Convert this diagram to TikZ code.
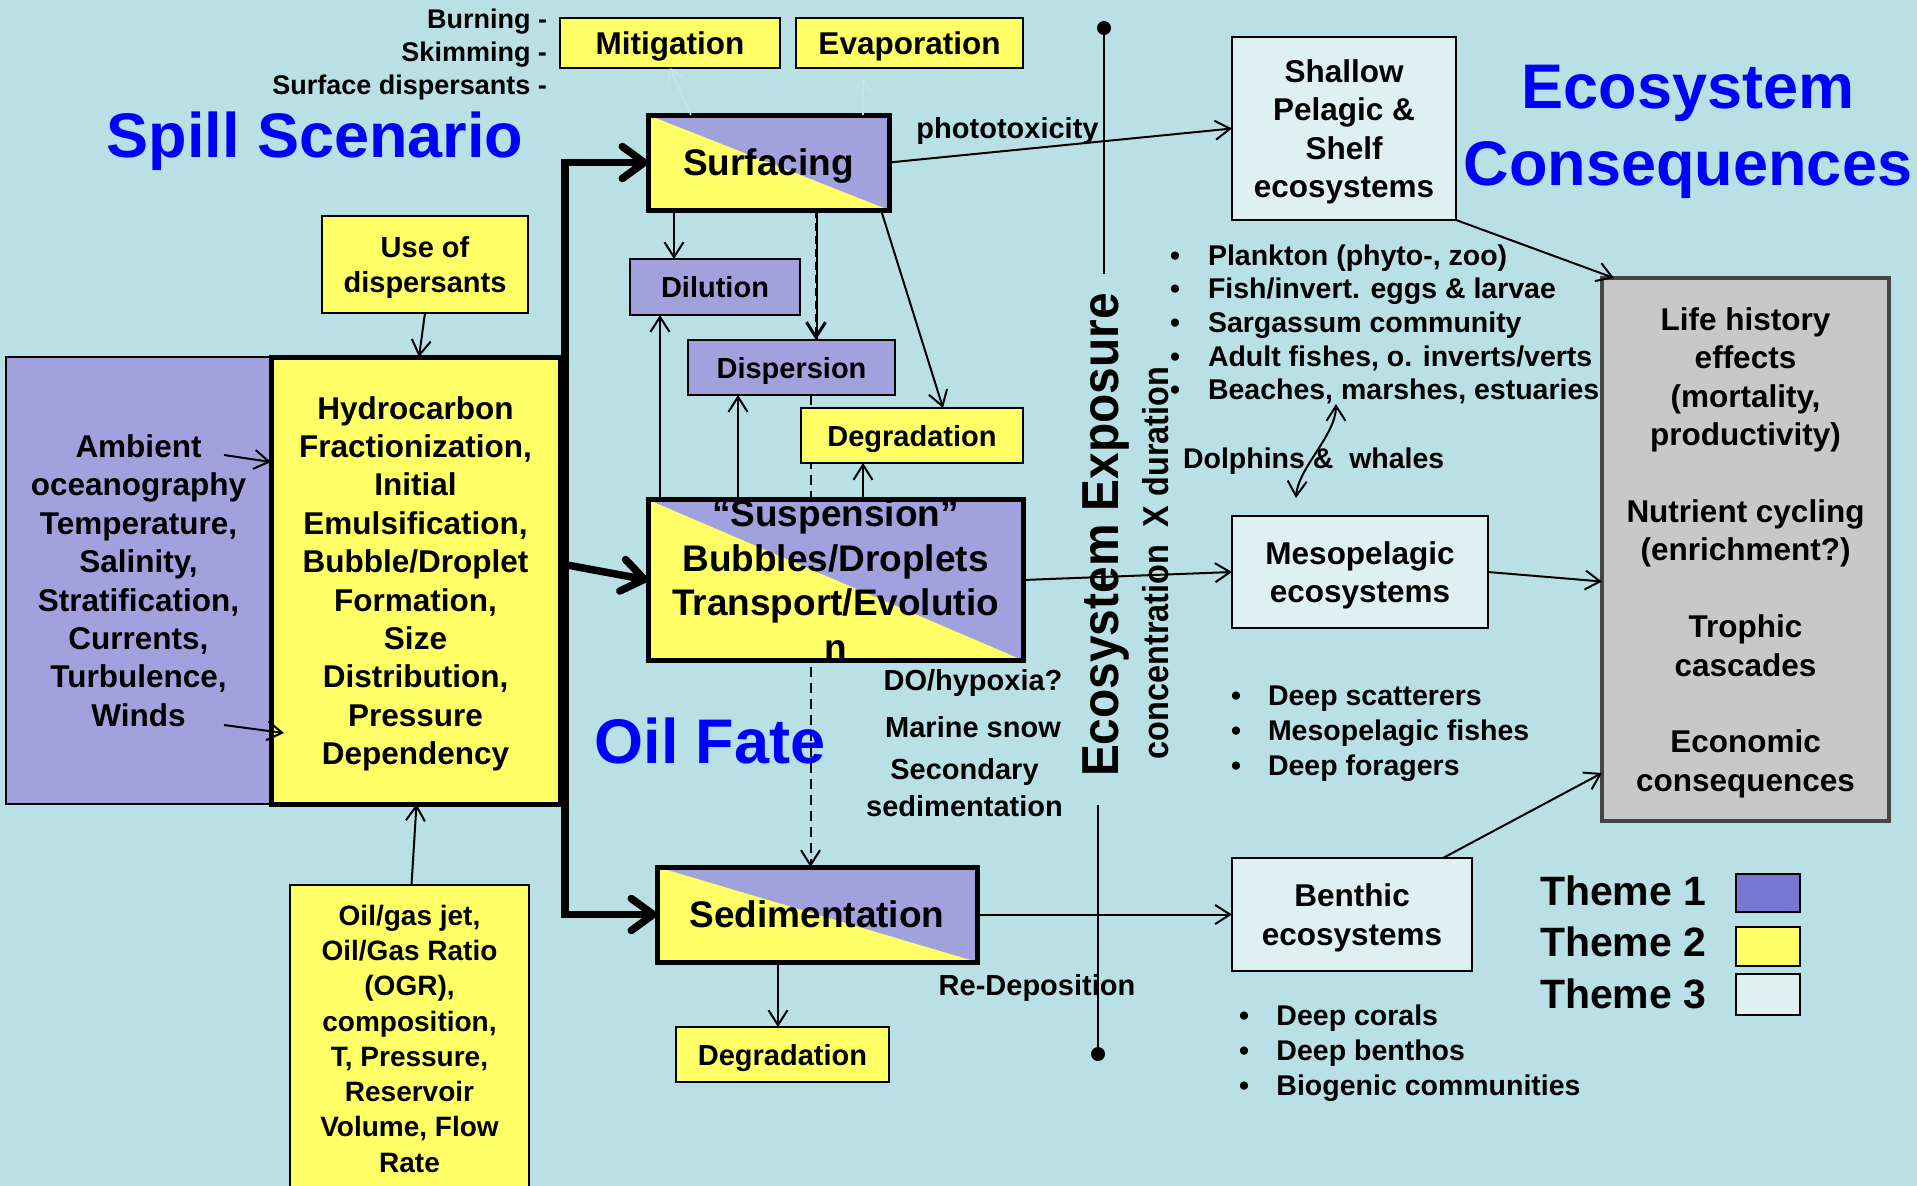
\documentclass[tikz,border=0pt]{standalone}
\usepackage{fontspec}
\usepackage{graphicx}
\setmainfont{Liberation Sans}
\usetikzlibrary{arrows.meta,calc}
\definecolor{bgc}{RGB}{185,224,228}
\definecolor{purp}{RGB}{161,161,221}
\definecolor{ylw}{RGB}{255,255,102}
\definecolor{lite}{RGB}{222,240,241}
\definecolor{grayb}{RGB}{200,200,200}
\definecolor{grayd}{RGB}{70,70,70}
\definecolor{themeone}{RGB}{120,120,210}
\definecolor{faint}{RGB}{197,229,232}
\pgfdeclarelayer{bg}
\pgfdeclarelayer{behind}
\pgfsetlayers{bg,behind,main}
\newcommand\fsz[2]{\fontsize{#1}{#2}\selectfont}
\newcommand\bul[1]{\makebox[#1][l]{\textbullet}}
\begin{document}
\begin{tikzpicture}[x=1pt,y=-1pt,
  every node/.style={font=\bfseries, text=black, inner sep=0pt, outer sep=0pt},
  bigtxt/.style={font=\bfseries\fsz{31.5}{38.4}},
  medtxt/.style={font=\bfseries\fsz{29}{34.5}},
  box/.style={draw, line width=1.6pt, align=center, text depth=0pt},
  ybox/.style={box, fill=ylw},
  pbox/.style={box, fill=purp},
  lbox/.style={box, fill=lite},
  diagbox/.style={draw, line width=5pt, fill=purp, align=center, text depth=0pt,
    path picture={\fill[ylw] (path picture bounding box.north west) -- (path picture bounding box.south west) -- (path picture bounding box.south east) -- cycle;}},
  arr/.style={line width=2pt, -{Straight Barb[length=15pt,width=19pt]}},
  thickarr/.style={line width=7.5pt, line join=miter},
  title/.style={font=\bfseries\fsz{63}{73}, text=blue, anchor=base},
  dot/.style={circle, fill=black, minimum size=14pt},
  lbl/.style={font=\bfseries\fsz{29}{34}, anchor=base},
  lst/.style={font=\bfseries\fsz{28.5}{33}, anchor=base west},
  theme/.style={font=\bfseries\fsz{41}{48}, anchor=base west},
  legbox/.style={draw, line width=2.2pt, minimum width=64pt}
]
\useasboundingbox (0,0) rectangle (1917,1186);
\begin{pgfonlayer}{bg}
\fill[bgc] (0,0) rectangle (1917,1186);
\end{pgfonlayer}

% titles
\node[title] (spill) at (315,157) {Spill Scenario};
\node[title] (eco1) at (1688,108) {Ecosystem};
\node[title] (eco2) at (1688,185) {Consequences};
\node[title] (oilfate) at (710,763) {Oil Fate};

% mitigation list
\node[font=\bfseries\fsz{27}{33}, anchor=base east] (burn) at (547,28) {Burning -};
\node[font=\bfseries\fsz{27}{33}, anchor=base east] (skim) at (547,61) {Skimming -};
\node[font=\bfseries\fsz{27}{33}, anchor=base east] (surfd) at (547,94) {Surface dispersants -};

% boxes
\node[ybox, font=\bfseries\fsz{31.5}{38}, minimum width=220pt, minimum height=50pt] (mitig) at (670,43) {Mitigation};
\node[ybox, font=\bfseries\fsz{31.5}{38}, minimum width=227pt, minimum height=50pt] (evap) at (909.5,43) {Evaporation};
\node[diagbox, font=\bfseries\fsz{37}{44.6}, minimum width=241pt, minimum height=95pt] (surf) at (768.5,162.5) {Surfacing};
\node[ybox, medtxt, minimum width=206pt, minimum height=97pt] (usedisp) at (425,264.5) {Use of\\dispersants};
\node[pbox, bigtxt, minimum width=265pt, minimum height=447pt] (amb) at (138.5,580.5) {Ambient\\oceanography\\Temperature,\\Salinity,\\Stratification,\\Currents,\\Turbulence,\\Winds};
\node[ybox, bigtxt, line width=5pt, minimum width=289pt, minimum height=447pt] (hyd) at (415.5,580.5) {Hydrocarbon\\Fractionization,\\Initial\\Emulsification,\\Bubble/Droplet\\Formation,\\Size\\Distribution,\\Pressure\\Dependency};
\node[pbox, medtxt, minimum width=170pt, minimum height=56pt] (dil) at (715,287) {Dilution};
\node[pbox, medtxt, minimum width=207pt, minimum height=55pt] (dsp) at (791.5,367.5) {Dispersion};
\node[ybox, medtxt, minimum width=222pt, minimum height=55pt] (deg1) at (912,435.5) {Degradation};
\node[diagbox, font=\bfseries\fsz{37}{44.6}, minimum width=375pt, minimum height=160pt] (susp) at (835.5,580) {“Suspension”\\Bubbles/Droplets\\Transport/Evolutio\\n};
\node[diagbox, font=\bfseries\fsz{37}{44.6}, minimum width=320pt, minimum height=95pt] (sed) at (817,914.5) {Sedimentation};
\node[ybox, medtxt, minimum width=213pt, minimum height=55pt] (deg2) at (782.5,1054.5) {Degradation};
\node[ybox, font=\bfseries\fsz{28}{35.3}, minimum width=239pt, minimum height=307pt] (oil) at (409.5,1038.5) {Oil/gas jet,\\Oil/Gas Ratio\\(OGR),\\composition,\\T, Pressure,\\Reservoir\\Volume, Flow\\Rate};
\node[lbox, bigtxt, minimum width=224pt, minimum height=183pt] (shal) at (1344,128.5) {Shallow\\Pelagic \&\\Shelf\\ecosystems};
\node[lbox, bigtxt, minimum width=256pt, minimum height=112pt] (meso) at (1360,572) {Mesopelagic\\ecosystems};
\node[lbox, bigtxt, minimum width=240pt, minimum height=113pt] (ben) at (1352,914.5) {Benthic\\ecosystems};
\node[box, fill=grayb, draw=grayd, line width=3.2pt, bigtxt, minimum width=287pt, minimum height=543pt] (life) at (1745.5,549.5) {Life history\\effects\\(mortality,\\productivity)\\[38.4pt]Nutrient cycling\\(enrichment?)\\[38.4pt]Trophic\\cascades\\[38.4pt]Economic\\consequences};

% legend
\node[theme] (th1) at (1540,905.5) {Theme 1};
\node[theme] (th2) at (1540,956) {Theme 2};
\node[theme] (th3) at (1540,1008) {Theme 3};
\node[legbox, fill=themeone, minimum height=38pt] (lg1) at (1768,893) {};
\node[legbox, fill=ylw, minimum height=39pt] (lg2) at (1768,946.5) {};
\node[legbox, fill=lite, minimum height=41pt] (lg3) at (1768,994.5) {};

% labels
\node[lbl] (photo) at (1007.5,138) {phototoxicity};
\node[lbl] (dohyp) at (973,690) {DO/hypoxia?};
\node[lbl] (msnow) at (973,737) {Marine snow};
\node[lbl] (secd) at (964.5,779) {Secondary};
\node[lbl] (sedm) at (964.5,816) {sedimentation};
\node[lbl] (redep) at (1037,995) {Re-Deposition};

% lists
\node[lst] (pl1) at (1170,265) {\bul{38pt}Plankton (phyto-, zoo)};
\node[lst] (pl2) at (1170,298) {\bul{38pt}Fish/invert. eggs \& larvae};
\node[lst] (pl3) at (1170,332) {\bul{38pt}Sargassum community};
\node[lst] (pl4) at (1170,366) {\bul{38pt}Adult fishes, o. inverts/verts};
\node[lst] (pl5) at (1170,399) {\bul{38pt}Beaches, marshes, estuaries};
\node[lst] (dolph) at (1183,468) {Dolphins \&\ \ whales};
\node[lst] (dp1) at (1231,705) {\bul{37pt}Deep scatterers};
\node[lst] (dp2) at (1231,740) {\bul{37pt}Mesopelagic fishes};
\node[lst] (dp3) at (1231,775) {\bul{37pt}Deep foragers};
\node[lst] (bn1) at (1239,1025) {\bul{37.5pt}Deep corals};
\node[lst] (bn2) at (1239,1060) {\bul{37.5pt}Deep benthos};
\node[lst] (bn3) at (1239,1095) {\bul{37.5pt}Biogenic communities};

% exposure axis
\node[dot] (dotT) at (1104,28) {};
\coordinate (axT) at (1104,274);
\node[dot] (dotB) at (1098,1054) {};
\coordinate (axB) at (1098,805);
\draw[line width=2.2pt] (dotT.center) -- (axT);
\draw[line width=2.2pt] (axB) -- (dotB.center);
\node[rotate=90, anchor=base, font=\bfseries\fsz{52}{60}] (expo) at (1118,535) {\scalebox{0.92}[1]{Ecosystem Exposure}};
\node[rotate=90, anchor=base, font=\bfseries\fsz{36}{40}] (conc) at (1168,563) {\scalebox{0.9}[1]{concentration\ \ X duration}};

% thick arrows
\coordinate (hubT) at (565,162.5);
\coordinate (hubB) at (565,914.5);
\coordinate (hubM) at (567,565);
\draw[thickarr, {Straight Barb[length=22pt,width=32pt,round]}-{Straight Barb[length=22pt,width=32pt,round]}] (sed.west) -- (hubB) -- (hubT) -- (surf.west);
\draw[thickarr, -{Straight Barb[length=22pt,width=32pt,round]}] (hubM) -- (susp.west);

% thin arrows
\draw[arr] (usedisp.south) -- ([xshift=-6pt]usedisp.south |- hyd.north);
\draw[arr] ([xshift=2pt]oil.north) -- ([xshift=7pt]oil.north |- hyd.south);
\coordinate (ambA) at (224,455);
\coordinate (ambB) at (224,725);
\draw[arr] (ambA) -- ([yshift=-7pt]ambA -| hyd.west);
\draw[arr] (ambB) -- ([xshift=13pt,yshift=-8pt]ambB -| hyd.west);
\draw[arr] ([xshift=26pt]surf.south west) -- ([xshift=26pt]surf.south west |- dil.north);
\draw[line width=2pt] ([xshift=48.5pt]surf.south) -- ([xshift=48.5pt]surf.south |- dsp.north);
\draw[arr, line width=3pt, dash pattern=on 8pt off 5pt] ([xshift=47.5pt]surf.south) -- ([xshift=47.5pt]surf.south |- dsp.north);
\draw[arr] ([xshift=-8pt]surf.south east) -- ([xshift=-80pt]deg1.north east);
\draw[arr] ([xshift=12pt]susp.north west) -- ([xshift=12pt]susp.north west |- dil.south);
\draw[arr] ([xshift=90pt]susp.north west) -- ([xshift=90pt]susp.north west |- dsp.south);
\draw[arr] ([xshift=215pt]susp.north west) -- ([xshift=215pt]susp.north west |- deg1.south);
\begin{pgfonlayer}{behind}
\draw[arr, line width=2pt, dash pattern=on 10pt off 6pt] ([xshift=19pt]dsp.south) -- ([xshift=19pt]dsp.south |- sed.north);
\end{pgfonlayer}
\draw[arr] ([xshift=-39pt]sed.south) -- ([xshift=-39pt]sed.south |- deg2.north);
\draw[arr] (surf.east) -- (shal.west);
\draw[arr] (susp.east) -- (meso.west);
\draw[arr] (sed.east) -- (ben.west);
\draw[arr] (shal.south east) -- ([xshift=12pt]life.north west);
\draw[arr] (meso.east) -- ([yshift=-32pt]life.west);
\draw[arr] ([xshift=-29pt]ben.north east) -- ([yshift=48pt]life.south west);
\coordinate (dolA) at (1336,404);
\coordinate (dolB) at (1296,498);
\draw[line width=2pt, {Straight Barb[length=15pt,width=19pt]}-{Straight Barb[length=15pt,width=19pt]}] (dolA) .. controls (1336,435) and (1298,468) .. (dolB);
\draw[line width=1.5pt, draw=faint, -{Straight Barb[length=12pt,width=16pt]}] ([xshift=-77.5pt]surf.north) -- (mitig.south);
\draw[line width=1.5pt, draw=faint, -{Straight Barb[length=12pt,width=16pt]}] ([xshift=-26pt]surf.north east) -- ([xshift=-46.5pt,yshift=-10pt]evap.south);
\end{tikzpicture}
\end{document}
